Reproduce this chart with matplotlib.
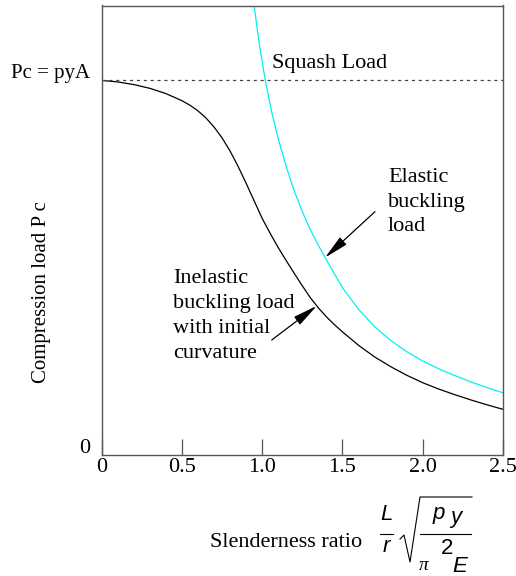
import matplotlib
matplotlib.use("Agg")
import matplotlib.pyplot as plt
from matplotlib.lines import Line2D

# (slenderness ratio, load / squash load)
black_x = [0, 0.1, 0.2, 0.3, 0.4, 0.5, 0.55, 0.6, 0.65, 0.7, 0.75, 0.8, 0.85, 0.9, 0.95,
           1.0, 1.05, 1.1, 1.15, 1.2, 1.25, 1.3, 1.35, 1.4, 1.45, 1.5, 1.6, 1.7, 1.8,
           1.9, 2.0, 2.1, 2.2, 2.3, 2.4, 2.5]
black_y = [1.0, 0.996, 0.989, 0.979, 0.965, 0.946, 0.934, 0.919, 0.900, 0.876, 0.847,
           0.812, 0.771, 0.726, 0.679, 0.632, 0.592, 0.554, 0.519, 0.485, 0.452, 0.420,
           0.393, 0.369, 0.348, 0.329, 0.293, 0.262, 0.236, 0.213, 0.193, 0.176, 0.161,
           0.147, 0.134, 0.122]
cyan_x = [0.95, 0.985, 1.02, 1.06, 1.1, 1.15, 1.2, 1.25, 1.3, 1.35, 1.4, 1.5, 1.6, 1.7,
          1.8, 1.9, 2.0, 2.1, 2.2, 2.3, 2.4, 2.5]
cyan_y = [1.2, 1.09, 1.0, 0.915, 0.845, 0.770, 0.705, 0.650, 0.602, 0.560, 0.521, 0.447,
          0.389, 0.343, 0.306, 0.276, 0.251, 0.230, 0.212, 0.195, 0.180, 0.166]
squash = 1.0
xticks = [0, 0.5, 1.0, 1.5, 2.0, 2.5]
xticklabels = ["0", "0.5", "1.0", "1.5", "2.0", "2.5"]

W, H = 516, 576
serif = "Liberation Serif"
sans = "Liberation Sans"
fs = 16

fig = plt.figure(figsize=(W / 100, H / 100), dpi=100)
ax = fig.add_axes([101.5 / W, 1 - 455 / H, 401.5 / W, 449.5 / H])


def px(x, y):
    # pixel position in the picture -> figure fraction
    return x / W, 1 - y / H


ax.plot(black_x, black_y, color="black", lw=0.9)
ax.plot(cyan_x, cyan_y, color="#00f0f0", lw=0.9)
ax.axhline(squash, color="#444444", lw=0.9, ls=(0, (2.5, 3)))

ax.set_xlim(0, 2.5)
ax.set_ylim(0, 1.2)
ax.set_xticks(xticks)
ax.set_xticklabels(xticklabels, fontfamily=serif, fontsize=fs)
ax.set_yticks([])
ax.tick_params(axis="x", direction="in", length=11.3, width=0.9, color="#555555", pad=2)
for s in ax.spines.values():
    s.set_color("#555555")
    s.set_linewidth(1.0)

# y labels at 0 and squash load
fig.text(*px(90.5, 453), "0", ha="right", va="baseline", family=serif, fontsize=fs)
fig.text(*px(90.5, 78), "Pc = pyA", ha="right", va="baseline", family=serif, fontsize=15)
fig.text(*px(42, 292), "Compression load P c", rotation=90, ha="center", va="center",
         family=serif, fontsize=15)

fig.text(*px(271.7, 68.3), "Squash Load", ha="left", va="baseline", family=serif, fontsize=fs)

for line, yb in zip(["Elastic", "buckling", "load"], [181.7, 206.7, 231.4]):
    fig.text(*px(388, yb), line, ha="left", va="baseline", family=serif, fontsize=fs)
for line, yb in zip(["Inelastic", "buckling load", "with initial", "curvature"],
                    [283.3, 308.3, 333.3, 358.3]):
    fig.text(*px(173.3, yb), line, ha="left", va="baseline", family=serif, fontsize=fs)

arrow = dict(arrowstyle="-|>,head_length=1.5,head_width=0.3", color="black", lw=0.9,
             shrinkA=0, shrinkB=0)
ax.annotate("", xy=(1.392, 0.527), xytext=px(375, 211.7), textcoords="figure fraction",
            arrowprops=arrow)
ax.annotate("", xy=(1.34, 0.398), xytext=px(271.7, 340), textcoords="figure fraction",
            arrowprops=arrow)

# x label with the slenderness formula
fig.text(*px(210, 546.7), "Slenderness ratio", ha="left", va="baseline", family=serif, fontsize=fs)
fig.text(*px(386.5, 515), "L", ha="center", va="center", family=sans, style="italic", fontsize=fs)
fig.text(*px(386.5, 546), "r", ha="center", va="center", family=sans, style="italic", fontsize=fs)
fig.text(*px(439, 514), "p", ha="center", va="center", family=sans, style="italic", fontsize=fs)
fig.text(*px(456, 517), "y", ha="center", va="center", family=sans, style="italic", fontsize=fs)
fig.text(*px(446.7, 549), "2", ha="center", va="center", family=sans, fontsize=fs)
fig.text(*px(423.3, 566), "\u03c0", ha="center", va="center", family=serif, style="italic",
         fontsize=14)
fig.text(*px(460, 566), "E", ha="center", va="center", family=sans, style="italic", fontsize=fs)

for xs, ys in [([380, 393.3], [534, 534]),
               ([420, 470.7], [534, 534]),
               ([400, 404, 410, 420, 472], [539, 535, 562, 497, 497])]:
    fx = [x / W for x in xs]
    fy = [1 - y / H for y in ys]
    fig.add_artist(Line2D(fx, fy, color="black", lw=0.8, transform=fig.transFigure))

fig.savefig("out.png", dpi=100)
